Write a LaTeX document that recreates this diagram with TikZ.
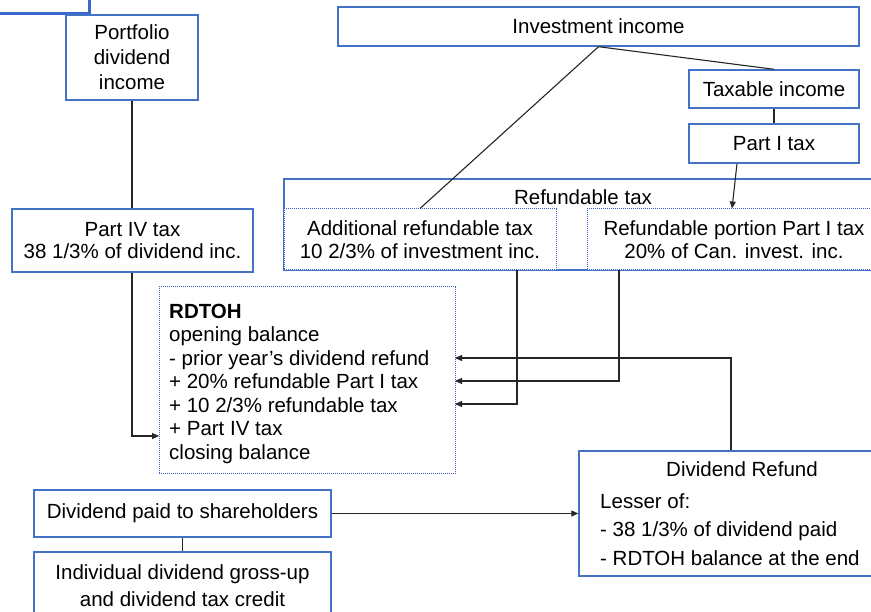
\documentclass[tikz,border=0pt]{standalone}
\usepackage{fontspec}
\setmainfont{Liberation Sans}
\usetikzlibrary{arrows.meta}
\definecolor{bxblue}{RGB}{68,114,196}
\definecolor{tlblue}{RGB}{59,104,204}
\begin{document}
\begin{tikzpicture}[x=1pt,y=-1pt,
  every node/.style={font=\fontsize{20.5}{24}\selectfont, inner sep=0pt},
  fs/.style={font=\fontsize{20.5}{#1}\selectfont},
  box/.style={draw=bxblue, line width=1.4pt, rectangle, align=center},
  dbox/.style={draw=bxblue!85!blue, line width=1pt, dash pattern=on 1pt off 1pt, rectangle},
  conn/.style={draw=black!85, line width=1.1pt},
  arr/.style={conn, -{Triangle[length=7pt,width=6pt]}}]
\useasboundingbox (0,0) rectangle (871,612);
\fill[white] (0,0) rectangle (871,612);

% top-left partial box
\node[draw=tlblue, line width=3pt, minimum width=129pt, minimum height=54pt] (tl) at (24.5,-13) {};

% left column
\node[box, fs=25, minimum width=132pt, minimum height=85pt] (portfolio) at (132,57.5)
  {Portfolio\\dividend\\income};
\node[box, fs=22, minimum width=241pt, minimum height=63pt] (partiv) at (132.5,240.5)
  {Part IV tax\\38 1/3\% of dividend inc.};

% investment income branch
\node[box, minimum width=521pt, minimum height=39pt] (invest) at (598.5,26.5) {Investment income};
\node[box, minimum width=170pt, minimum height=38pt] (taxable) at (774,89) {Taxable income};
\node[box, minimum width=170pt, minimum height=39pt] (parti) at (774,143.5) {Part I tax};

% refundable tax group
\node[box, minimum width=606pt, minimum height=91pt] (reftax) at (587,224.5) {};
\node (reftaxlbl) at (583,197) {Refundable tax};
\node[dbox, fill=white, fs=23, minimum width=272pt, minimum height=61pt, align=center] (addl) at (420,239.5)
  {Additional refundable tax\\10 2/3\% of investment inc.};
\node[dbox, fill=white, fs=23, minimum width=294pt, minimum height=61pt, align=center] (refp) at (734,239.5)
  {Refundable portion Part I tax\\20\% of Can. invest. inc.};
\draw[draw=bxblue, line width=1.4pt] (reftax.south west) -- (reftax.south east);

% RDTOH
\node[dbox, minimum width=296pt, minimum height=187pt] (rdtoh) at (307,380.5) {};
\node[anchor=west, align=left, fs=23.5] (rdtohtxt) at (169,383.5)
  {\textbf{RDTOH}\\opening balance\\- prior year’s dividend refund\\+ 20\% refundable Part I tax\\+ 10 2/3\% refundable tax\\+ Part IV tax\\closing balance};

% bottom
\node[box, minimum width=297pt, minimum height=47pt] (divpaid) at (182.5,513.5) {Dividend paid to shareholders};
\node[box, minimum width=297pt, minimum height=73pt] (indiv) at (182.5,588.5) {};
\node[align=center, fs=27] (indivtxt) at (182.5,585.5)
  {Individual dividend gross-up\\and dividend tax credit};
\node[box, minimum width=326pt, minimum height=125pt] (divref) at (742,513.5) {};
\node (divreftitle) at (742,469) {Dividend Refund};
\node[anchor=west, align=left, fs=28.5] (divreftxt) at (600,529.5)
  {Lesser of:\\- 38 1/3\% of dividend paid\\- RDTOH balance at the end};

% connector end points on RDTOH
\coordinate (r1) at (455,358);
\coordinate (r2) at (455,381);
\coordinate (r3) at (455,404);
\coordinate (r4) at (159,436);

% connectors
\draw[conn] (portfolio.south) -- (partiv.north -| portfolio.south);
\draw[arr] (partiv.south -| portfolio.south) |- (r4);
\draw[conn] (invest.south) -- (addl.north);
\draw[conn] (invest.south) -- (taxable.north);
\draw[conn] (taxable.south) -- (parti.north);
\draw[arr] ([xshift=-37pt]parti.south) -- ([xshift=-2pt]refp.north);
\draw[arr] ([xshift=97pt]addl.south) |- (r3);
\draw[arr] ([xshift=-115pt]refp.south) |- (r2);
\draw[arr] ([xshift=-11pt]divref.north) |- (r1);
\draw[conn] (divpaid.south) -- (indiv.north);
\draw[arr] (divpaid.east) -- (divref.west);
\end{tikzpicture}
\end{document}
